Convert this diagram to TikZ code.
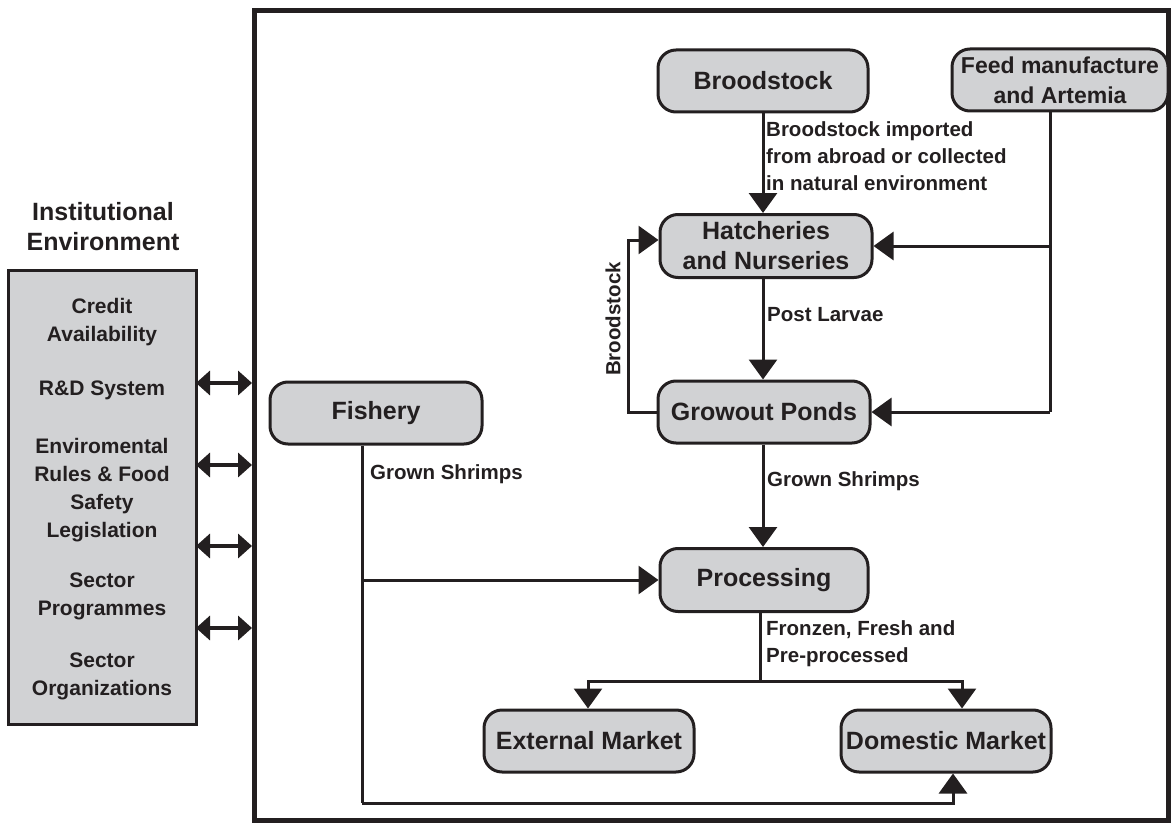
\documentclass[tikz,border=0pt]{standalone}
\usepackage{fontspec}
\setmainfont{Liberation Sans}
\usetikzlibrary{arrows.meta}
\definecolor{ink}{HTML}{231F20}
\definecolor{boxgrey}{HTML}{D1D2D4}
\tikzset{
  proc/.style={draw=ink, fill=boxgrey, line width=3pt, rounded corners=18pt, font=\fontsize{25}{30}\selectfont\bfseries, text=ink, align=center, inner sep=0pt},
  flow/.style={draw=ink, line width=3pt, -{Triangle[length=20pt,width=28pt]}},
  plain/.style={draw=ink, line width=3pt},
  lbl/.style={font=\fontsize{20.5}{27}\selectfont\bfseries, text=ink, align=left, inner sep=0pt, anchor=north west},
  inst/.style={font=\fontsize{21}{28}\selectfont\bfseries, text=ink, align=center, inner sep=0pt},
  dbl/.style={draw=ink, line width=3.5pt, {Triangle[length=14pt,width=24pt]}-{Triangle[length=14pt,width=24pt]}}
}
\begin{document}
\begin{tikzpicture}[x=1pt,y=-1pt]
\useasboundingbox (0,0) rectangle (1173,824);
% outer frame
\draw[ink, line width=5pt] (254,11) rectangle (1168,820);
% institutional box
\node[inst, font=\fontsize{25}{30}\selectfont\bfseries] (title) at (103,227) {Institutional\\Environment};
\node[draw=ink, fill=boxgrey, line width=3pt, minimum width=188pt, minimum height=454pt, inner sep=0pt] (inst) at (102,497) {};
\node[inst] (credit) at (102,322) {Credit\\Availability};
\node[inst] (rd) at (102,390) {R\&D System};
\node[inst] (env) at (102,490) {Enviromental\\Rules \& Food\\Safety\\Legislation};
\node[inst] (prog) at (102,596) {Sector\\Programmes};
\node[inst] (org) at (102,676) {Sector\\Organizations};
% double arrows
\coordinate (a1l) at (196,383); \coordinate (a1r) at (252,383);
\coordinate (a2l) at (196,465); \coordinate (a2r) at (252,465);
\coordinate (a3l) at (196,546); \coordinate (a3r) at (252,546);
\coordinate (a4l) at (196,628); \coordinate (a4r) at (252,628);
\draw[dbl] (a1l) -- (a1r);
\draw[dbl] (a2l) -- (a2r);
\draw[dbl] (a3l) -- (a3r);
\draw[dbl] (a4l) -- (a4r);
% process nodes
\node[proc, minimum width=210pt, minimum height=62pt] (brood) at (763,81) {Broodstock};
\node[proc, minimum width=216pt, minimum height=62pt, font=\fontsize{23}{30}\selectfont\bfseries] (feed) at (1060,80) {Feed manufacture\\and Artemia};
\node[proc, minimum width=212pt, minimum height=63pt] (hatch) at (766,246) {Hatcheries\\and Nurseries};
\node[proc, minimum width=212pt, minimum height=62pt] (grow) at (764,412) {Growout Ponds};
\node[proc, minimum width=212pt, minimum height=62pt] (fish) at (376,413) {Fishery};
\node[proc, minimum width=208pt, minimum height=63pt] (proc) at (764,580) {Processing};
\node[proc, minimum width=210pt, minimum height=62pt] (ext) at (589,741) {External Market};
\node[proc, minimum width=210pt, minimum height=62pt] (dom) at (946,741) {Domestic Market};
% broodstock -> hatcheries
\draw[flow] (brood.south -| 763,0) -- (hatch.north -| 763,0);
\node[lbl] (l1) at (766,121) {Broodstock imported\\from abroad or collected\\in natural environment};
% feed lines
\coordinate (fd) at (1050,111);
\coordinate (fh) at (1050,246);
\coordinate (fg) at (1050,412);
\draw[plain] (fd) -- (fg);
\draw[flow] (fh) -- (hatch.east);
\draw[flow] (fg) -- (grow.east);
% broodstock loop
\coordinate (bl1) at (628,412);
\coordinate (bl2) at (628,240);
\draw[flow] (grow.west) -- (bl1) -- (bl2) -- (hatch.west |- bl2);
\node[font=\fontsize{20.5}{24}\selectfont\bfseries, text=ink, rotate=90, inner sep=0pt] (l2) at (613,319) {Broodstock};
% post larvae
\draw[flow] (hatch.south -| 763,0) -- (grow.north -| 763,0);
\node[lbl] (l3) at (767,307) {Post Larvae};
% grown shrimps
\draw[flow] (grow.south -| 763,0) -- (proc.north -| 763,0);
\node[lbl] (l4) at (767,471) {Grown Shrimps};
% fishery lines
\coordinate (f1) at (362,580);
\coordinate (f2) at (362,803);
\coordinate (f3) at (953,803);
\draw[plain] (fish.south -| 362,0) -- (f2);
\draw[flow] (f1) -- (proc.west);
\draw[flow] (f2) -- (f3) -- (dom.south -| f3);
\node[lbl] (l5) at (370,464) {Grown Shrimps};
% processing split
\coordinate (p1) at (760,681);
\coordinate (p2) at (588,681);
\coordinate (p3) at (962,681);
\draw[plain] (proc.south -| p1) -- (p1);
\draw[flow] (p1) -- (p2) -- (ext.north -| p2);
\draw[flow] (p1) -- (p3) -- (dom.north -| p3);
\node[lbl] (l6) at (766,620) {Fronzen, Fresh and\\Pre-processed};
\end{tikzpicture}
\end{document}
